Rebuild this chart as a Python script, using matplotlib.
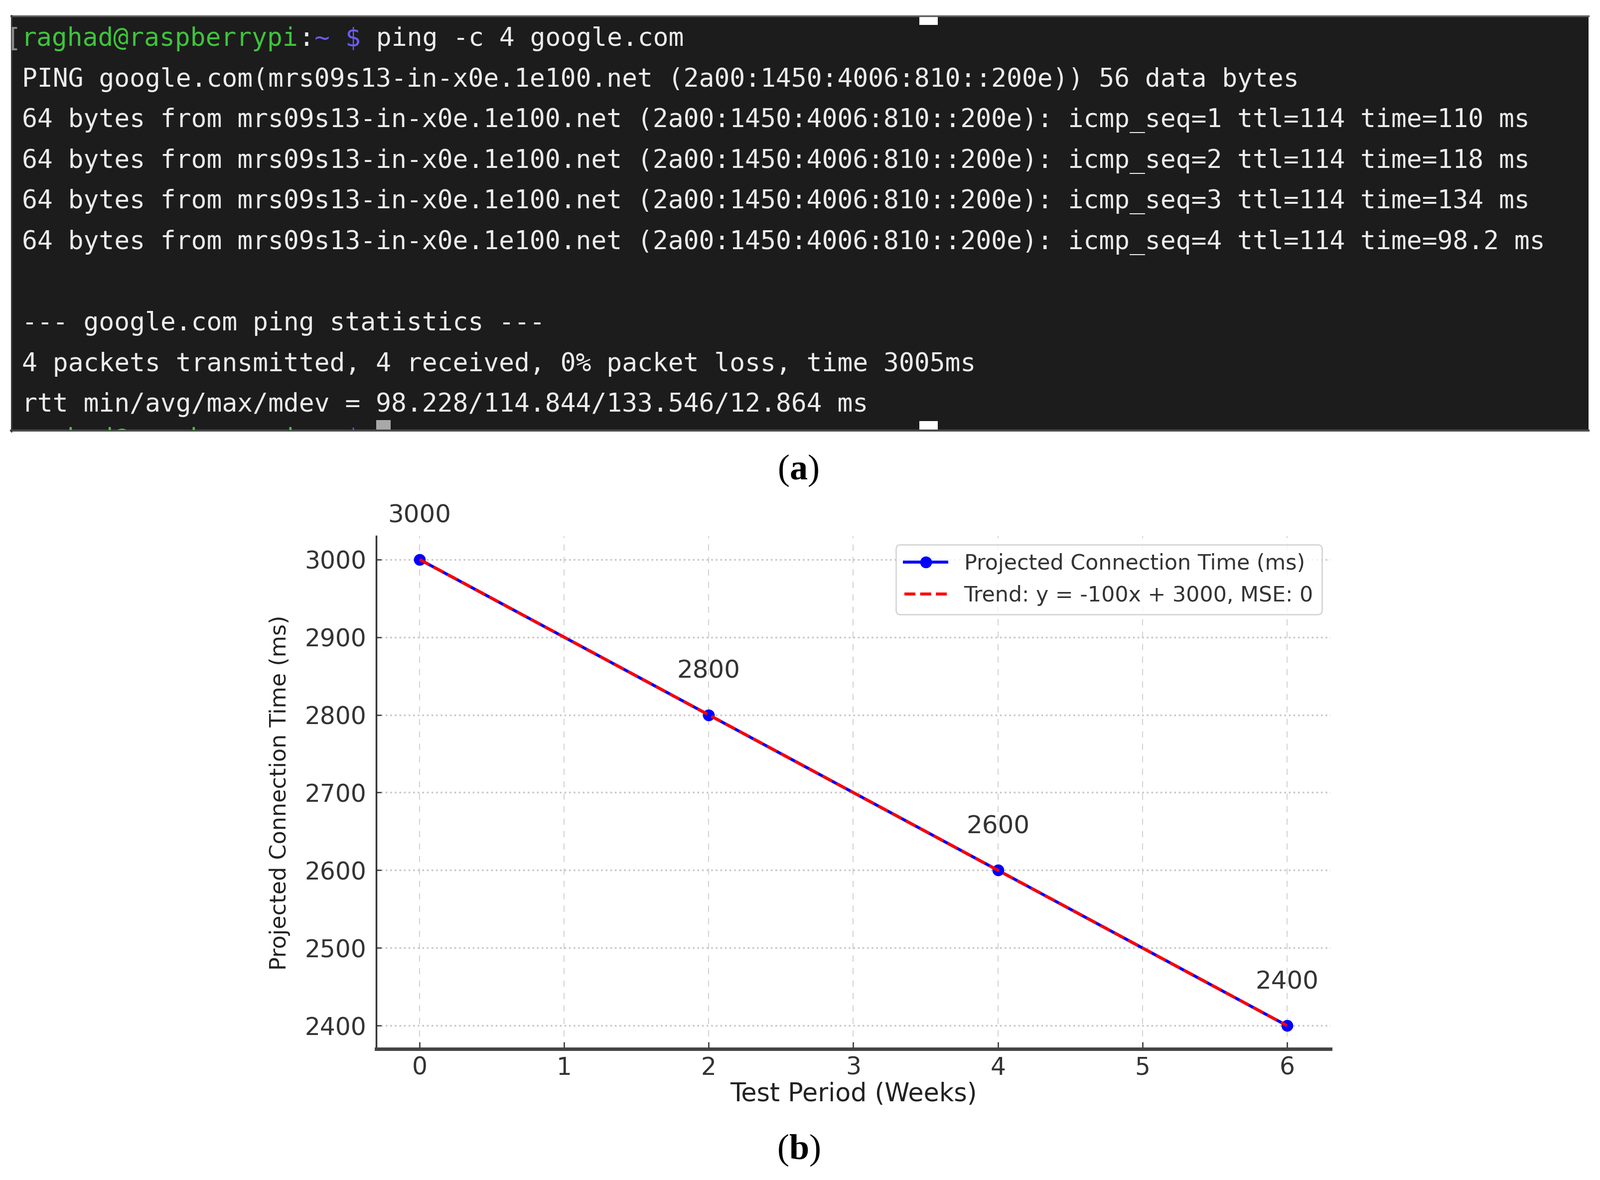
import numpy as np
import matplotlib
matplotlib.use("Agg")
import matplotlib.pyplot as plt
from matplotlib.patches import Rectangle
from matplotlib.transforms import Bbox, TransformedBbox

# ---- data ----
weeks = [0, 2, 4, 6]
conn_time = [3000, 2800, 2600, 2400]
series_label = "Projected Connection Time (ms)"
trend_label = "Trend: y = -100x + 3000, MSE: 0"
xlabel = "Test Period (Weeks)"
ylabel = "Projected Connection Time (ms)"

prompt_user = "raghad@raspberrypi"
prompt_cmd = " ping -c 4 google.com"
terminal_lines = [
    "PING google.com(mrs09s13-in-x0e.1e100.net (2a00:1450:4006:810::200e)) 56 data bytes",
    "64 bytes from mrs09s13-in-x0e.1e100.net (2a00:1450:4006:810::200e): icmp_seq=1 ttl=114 time=110 ms",
    "64 bytes from mrs09s13-in-x0e.1e100.net (2a00:1450:4006:810::200e): icmp_seq=2 ttl=114 time=118 ms",
    "64 bytes from mrs09s13-in-x0e.1e100.net (2a00:1450:4006:810::200e): icmp_seq=3 ttl=114 time=134 ms",
    "64 bytes from mrs09s13-in-x0e.1e100.net (2a00:1450:4006:810::200e): icmp_seq=4 ttl=114 time=98.2 ms",
    "",
    "--- google.com ping statistics ---",
    "4 packets transmitted, 4 received, 0% packet loss, time 3005ms",
    "rtt min/avg/max/mdev = 98.228/114.844/133.546/12.864 ms",
]

W, H = 3211, 2368
DPI = 100
plt.rcParams['mathtext.fontset'] = 'custom'
plt.rcParams['mathtext.rm'] = 'Liberation Serif'
plt.rcParams['mathtext.bf'] = 'Liberation Serif:bold'

fig = plt.figure(figsize=(W / DPI, H / DPI), dpi=DPI)
fig.patch.set_facecolor('white')

# background axes in pixel coordinates (y down)
bg = fig.add_axes([0, 0, 1, 1])
bg.set_xlim(0, W)
bg.set_ylim(H, 0)
bg.axis('off')

# ---- (a) terminal screenshot ----
tx0, ty0, tx1, ty1 = 22, 31, 3188, 866
term = Rectangle((tx0, ty0), tx1 - tx0, ty1 - ty0, facecolor='#1c1c1c', edgecolor='none')
bg.add_patch(term)
bg.plot([tx0, tx1], [ty0 + 1, ty0 + 1], color='#5e5e5e', lw=2.5)
bg.plot([tx0, tx1], [ty1 - 2, ty1 - 2], color='#4a4a4a', lw=3)
bg.plot([tx0 + 1, tx0 + 1], [ty0, ty1], color='#3a3a3a', lw=2)
bg.add_patch(Rectangle((1845, 28), 37, 22, facecolor='white', edgecolor='none'))
bg.add_patch(Rectangle((1845, 845), 37, 25, facecolor='white', edgecolor='none'))

mono = dict(family='DejaVu Sans Mono', fontsize=37, va='baseline', ha='left')
cw = 0.60205 * 37 * DPI / 72.0
x_start = 43
base0 = 92
step = 81.6
green = '#3ec43c'
purple = '#6a5cf2'
white = '#ececec'


def prompt(y):
    segs = [(prompt_user, green), (":", white), ("~", purple), (" ", white), ("$", purple)]
    n = 0
    out = []
    for s, c in segs:
        t = bg.text(x_start + n * cw, y, s, color=c, **mono)
        out.append(t)
        n += len(s)
    return out, n


bg.text(42, base0, "[", color='#8a8a8a', family='DejaVu Sans Mono', fontsize=37,
        va='baseline', ha='right')
_, n0 = prompt(base0)
bg.text(x_start + n0 * cw, base0, prompt_cmd, color=white, **mono)
for i, line in enumerate(terminal_lines):
    if line:
        bg.text(x_start + 1, base0 + step * (i + 1), line, color=white, **mono)

# next prompt, cut off by the bottom of the screenshot
nxt, nn = prompt(base0 + step * 10 - 12)
clip = TransformedBbox(Bbox([[tx0, ty0], [tx1, ty1 - 3]]), bg.transData)
for t in nxt:
    t.set_clip_on(True)
    t.set_clip_box(clip)
bg.add_patch(Rectangle((x_start + (nn + 1) * cw, 843), cw * 0.95, ty1 - 843 - 3,
                       facecolor='#a8a8a8', edgecolor='none'))

cap = dict(family='Liberation Serif', fontsize=52, ha='center', va='center', color='black')
bg.text(1602, 944, r"($\mathbf{a}$)", **cap)
bg.text(1603, 2308, r"($\mathbf{b}$)", **cap)

# ---- (b) chart ----
ax = fig.add_axes([755 / W, 1 - 2105 / H, (2670 - 755) / W, (2105 - 1076) / H])
coef = np.polyfit(weeks, conn_time, 1)
trend = np.polyval(coef, weeks)

ax.plot(weeks, conn_time, color='blue', marker='o', ms=16, lw=4.3, label=series_label, zorder=3)
ax.plot(weeks, trend, color='red', ls='--', lw=4.3, label=trend_label, zorder=4)

for x, y in zip(weeks, conn_time):
    ax.annotate(f"{y}", (x, y), xytext=(0, 46), textcoords='offset points',
                ha='center', va='bottom', fontsize=36, color='#333333')

ax.set_xlim(-0.3, 6.3)
ax.set_ylim(2370, 3030)
ax.set_xticks(range(0, 7))
ax.set_yticks(range(2400, 3001, 100))
ax.xaxis.grid(True, ls=(0, (6, 6)), color='#d4d4d4', lw=1.5)
ax.yaxis.grid(True, ls=':', color='#c8c8c8', lw=2.5)
ax.set_axisbelow(True)
for s in ['top', 'right']:
    ax.spines[s].set_visible(False)
ax.spines['left'].set_linewidth(2.5)
ax.spines['left'].set_color('#333333')
ax.spines['bottom'].set_linewidth(5)
ax.spines['bottom'].set_color('#444444')
ax.tick_params(axis='x', direction='in', length=10, width=1.8, color='#333333',
               labelsize=35, labelcolor='#333333', pad=10)
ax.tick_params(axis='y', direction='in', length=7, width=1.8, color='#333333',
               labelsize=35, labelcolor='#333333', pad=14)

ax.set_xlabel(xlabel, fontsize=36.5, color='#222222')
ax.set_ylabel(ylabel, fontsize=32, color='#222222')
ax.xaxis.set_label_coords(0.5, -0.064)
ax.yaxis.set_label_coords(-0.09, 0.5)

leg = ax.legend(loc='upper right', fontsize=30.8, frameon=True, fancybox=True,
                borderaxespad=0.4, handlelength=2.0)
leg.get_frame().set_edgecolor('#cccccc')
leg.get_frame().set_linewidth(2)
for t in leg.get_texts():
    t.set_color('#333333')

fig.savefig("out.png", dpi=DPI, facecolor='white')
